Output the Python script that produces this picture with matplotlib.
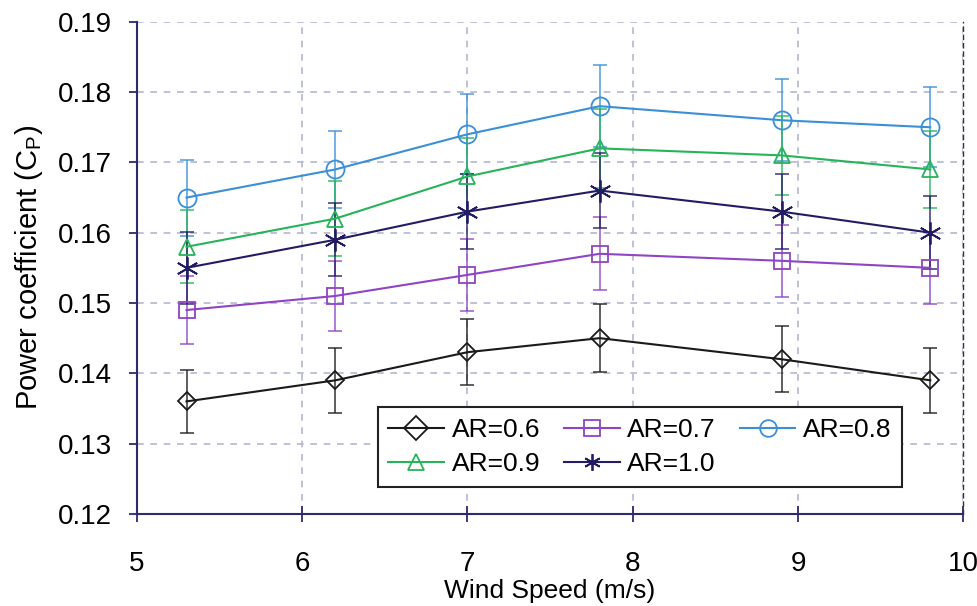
import numpy as np
import matplotlib.pyplot as plt

plt.rcParams['font.family'] = ['Liberation Sans', 'DejaVu Sans']

wind_speed = [5.3, 6.2, 7.0, 7.8, 8.9, 9.8]

ar_labels = ["AR=0.6", "AR=0.7", "AR=0.8", "AR=0.9", "AR=1.0"]

cp_06 = [0.136, 0.139, 0.143, 0.145, 0.142, 0.139]
cp_07 = [0.149, 0.151, 0.154, 0.157, 0.156, 0.155]
cp_08 = [0.165, 0.169, 0.174, 0.178, 0.176, 0.175]
cp_09 = [0.158, 0.162, 0.168, 0.172, 0.171, 0.169]
cp_10 = [0.155, 0.159, 0.163, 0.166, 0.163, 0.160]

err_06 = [0.0045, 0.0046, 0.0047, 0.0048, 0.0047, 0.0046]
err_07 = [0.0049, 0.0050, 0.0051, 0.0052, 0.0051, 0.0051]
err_08 = [0.0054, 0.0055, 0.0057, 0.0058, 0.0058, 0.0057]
err_09 = [0.0052, 0.0053, 0.0055, 0.0056, 0.0056, 0.0055]
err_10 = [0.0051, 0.0052, 0.0053, 0.0054, 0.0053, 0.0052]

series = [cp_06, cp_07, cp_08, cp_09, cp_10]
errors = [err_06, err_07, err_08, err_09, err_10]
colors = ["#1a1a1a", "#8e44c4", "#3a8fd8", "#27b35a", "#231c64"]
markers = ["D", "s", "o", "^", (6, 2, 0)]
msizes = [9, 12, 13, 12, 16]

fig = plt.figure(figsize=(9.78, 6.06), dpi=100)
ax = fig.add_axes([0.140, 0.152, 0.845, 0.812])

handles = []
for y, e, c, m, ms, lab in zip(series, errors, colors, markers, msizes, ar_labels):
    ax.errorbar(wind_speed, y, yerr=e, fmt='none', ecolor=c, alpha=0.7,
                elinewidth=1.4, capsize=5, capthick=1.4, zorder=2)
    h, = ax.plot(wind_speed, y, color=c, lw=1.5, marker=m, ms=ms,
                 mfc='none', mec=c, mew=1.3, label=lab, zorder=3)
    handles.append(h)

ax.set_xlim(5, 10)
ax.set_ylim(0.12, 0.19)
ax.set_xticks(np.arange(5, 11, 1))
ax.set_yticks(np.arange(0.12, 0.191, 0.01))
ax.set_yticklabels([f"{v:.2f}" for v in np.arange(0.12, 0.191, 0.01)])

ax.grid(True, ls=(0, (4, 4)), color="#b4b8cf", lw=1.2)
ax.set_axisbelow(True)

spine_color = "#2e2a6e"
ax.spines['left'].set_color(spine_color)
ax.spines['left'].set_linewidth(1.5)
ax.spines['bottom'].set_color(spine_color)
ax.spines['bottom'].set_linewidth(1.5)
ax.spines['top'].set_visible(False)
ax.spines['right'].set_linestyle((0, (3, 3)))
ax.spines['right'].set_color("#333333")
ax.spines['right'].set_linewidth(1.0)

ax.tick_params(axis='y', direction='out', length=6, width=1.3, color=spine_color,
               labelsize=20, pad=12)
ax.tick_params(axis='x', direction='inout', length=12, width=1.3, color=spine_color,
               labelsize=20, pad=21)

ax.set_xlabel("Wind Speed (m/s)", fontsize=19, labelpad=1)
ax.set_ylabel("Power coefficient (C$_\\mathregular{P}$)", fontsize=21, labelpad=9)

# legend fills column-wise, so reorder to get two rows of 3 + 2
order = [0, 3, 1, 4, 2]
leg = ax.legend([handles[i] for i in order], [ar_labels[i] for i in order],
                ncol=3, loc='lower right', bbox_to_anchor=(0.942, 0.028),
                fontsize=19, frameon=True, fancybox=False, edgecolor='#222222',
                framealpha=1, handlelength=2.1, handletextpad=0.3,
                columnspacing=0.9, labelspacing=0.4, borderpad=0.4)
leg.get_frame().set_linewidth(1.5)
for h in leg.legend_handles:
    h.set_markersize(12)

fig.savefig("out.png", dpi=100)
